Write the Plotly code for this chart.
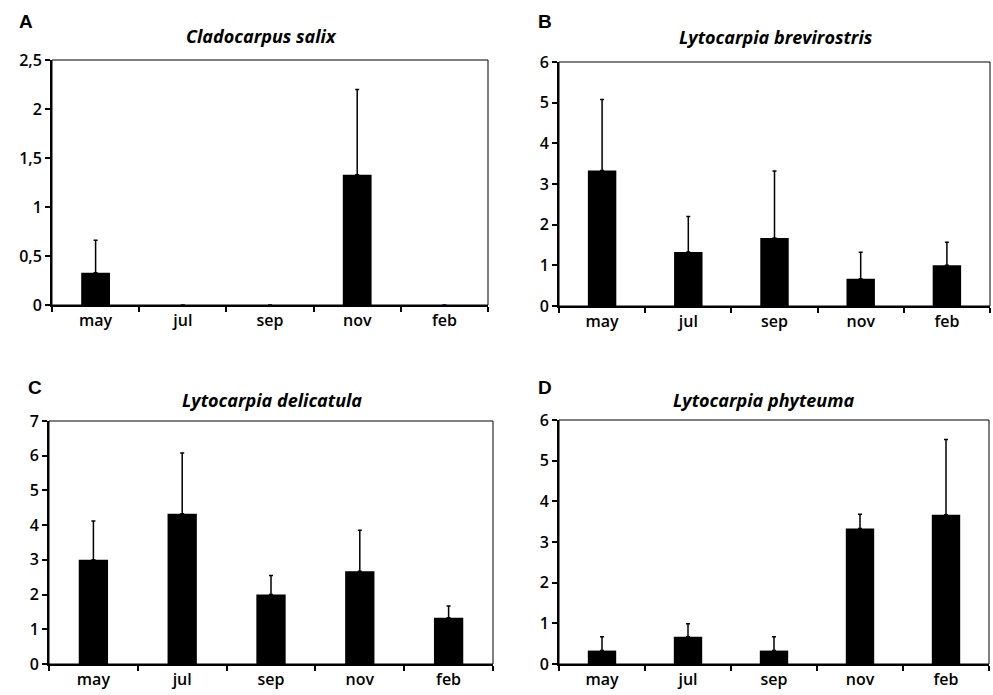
import plotly.graph_objects as go

months = ["may", "jul", "sep", "nov", "feb"]

titles = ["Cladocarpus salix", "Lytocarpia brevirostris", "Lytocarpia delicatula", "Lytocarpia phyteuma"]
letters = ["A", "B", "C", "D"]

a_mean = [0.33, 0, 0, 1.33, 0]
a_err = [0.33, 0, 0, 0.87, 0]
b_mean = [3.33, 1.33, 1.67, 0.67, 1.0]
b_err = [1.75, 0.87, 1.65, 0.65, 0.57]
c_mean = [3.0, 4.33, 2.0, 2.67, 1.33]
c_err = [1.12, 1.75, 0.55, 1.18, 0.34]
d_mean = [0.33, 0.67, 0.33, 3.33, 3.67]
d_err = [0.34, 0.32, 0.34, 0.35, 1.85]

y_max = [2.5, 6, 7, 6]
y_step = [0.5, 1, 1, 1]

means = [a_mean, b_mean, c_mean, d_mean]
errs = [a_err, b_err, c_err, d_err]

W, H = 993, 695
# pixel boxes: left, right, top, bottom
boxes = [(52, 488, 60, 305), (559, 990, 62, 306), (49, 493, 421, 664), (559, 989, 420, 664)]
title_pos = [(261, 36), (776, 37), (272, 400), (763, 400)]
letter_pos = [(26, 22), (545, 22), (35, 387), (545, 387)]

fig = go.Figure()
tick_font = dict(family="Open Sans", size=16, color="black", weight=600)

for i in range(4):
    sfx = "" if i == 0 else str(i + 1)
    xa, ya = "x" + sfx, "y" + sfx
    fig.add_trace(go.Bar(
        x=months, y=means[i], xaxis=xa, yaxis=ya,
        marker=dict(color="black", line=dict(width=0)),
        error_y=dict(type="data", symmetric=False,
                     array=[e if e > 0 else None for e in errs[i]],
                     arrayminus=[0] * 5, color="black", thickness=1.5, width=2),
        showlegend=False,
    ))
    l, r, t, b = boxes[i]
    fig.layout["xaxis" + sfx] = dict(
        domain=[l / W, r / W], anchor=ya, type="category", automargin=False,
        showline=True, linecolor="black", linewidth=2, mirror=False,
        ticks="outside", tickson="boundaries", ticklen=5, tickwidth=1.5, tickcolor="black",
        tickfont=tick_font, showgrid=False, zeroline=False, fixedrange=True,
    )
    fig.layout["yaxis" + sfx] = dict(
        domain=[1 - b / H, 1 - t / H], anchor=xa, automargin=False,
        range=[0, y_max[i]], dtick=y_step[i], tick0=0,
        showline=True, linecolor="black", linewidth=2, mirror=False,
        ticks="outside", ticklen=5, tickwidth=1.5, tickcolor="black",
        tickfont=tick_font, showgrid=False, zeroline=False, fixedrange=True,
    )
    fig.add_shape(type="rect", xref=xa + " domain", yref=ya + " domain",
                  x0=0, x1=1, y0=0, y1=1, line=dict(color="black", width=1))
    tx, ty = title_pos[i]
    fig.add_annotation(x=tx / W, y=1 - ty / H, xref="paper", yref="paper",
                       text=titles[i], showarrow=False, xanchor="center", yanchor="middle",
                       font=dict(family="Open Sans", size=18, color="black", weight="bold", style="italic"))
    lx, ly = letter_pos[i]
    fig.add_annotation(x=lx / W, y=1 - ly / H, xref="paper", yref="paper",
                       text=letters[i], showarrow=False, xanchor="center", yanchor="middle",
                       font=dict(family="Liberation Sans", size=19, color="black", weight="bold"))

fig.update_layout(
    width=W, height=H, margin=dict(l=0, r=0, t=0, b=0),
    paper_bgcolor="white", plot_bgcolor="white",
    bargap=0.67, separators=",.",
)

fig.write_html("out.html", config={"displayModeBar": False},
               post_script="document.body.style.margin='0';document.body.style.overflow='hidden';")
